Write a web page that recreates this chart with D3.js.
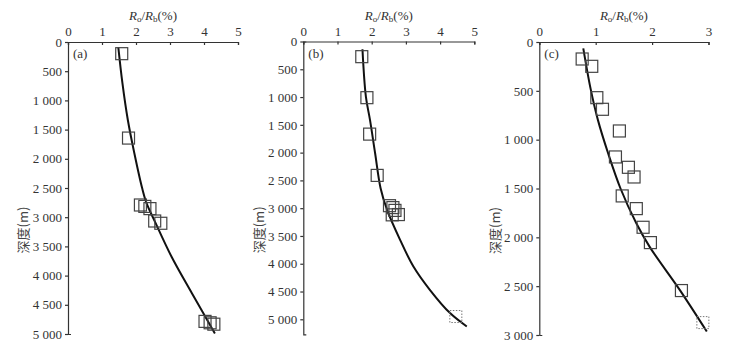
<!DOCTYPE html>
<html>
<head>
<meta charset="utf-8">
<script src="https://cdn.jsdelivr.net/npm/d3@7"></script>
<style>
  body { margin: 0; background: #fff; }
  svg text { font-family: "Liberation Serif", "DejaVu Serif", serif; fill: #333; }
  .axis path, .axis line { stroke: #333; stroke-width: 1.2; }
</style>
</head>
<body>
<svg id="chart" width="730" height="345"></svg>
<script>
// panel (a)
const ptsA_x = [1.58, 1.78, 2.13, 2.26, 2.41, 2.55, 2.73, 4.03, 4.18, 4.29];
const ptsA_d = [200, 1645, 2791, 2815, 2853, 3065, 3104, 4784, 4808, 4832];
const fitA_x = [1.48, 1.60, 1.76, 1.95, 2.18, 2.31, 2.56, 3.05, 3.64, 4.32];
const fitA_d = [91, 700, 1336, 1900, 2500, 2760, 3080, 3682, 4298, 4991];

// panel (b)
const ptsB_x = [1.71, 1.86, 1.94, 2.16, 2.52, 2.62, 2.68, 2.60, 2.78];
const ptsB_d = [273, 1011, 1667, 2410, 2955, 2990, 3040, 3120, 3115];
const dotB_x = [4.46];
const dotB_d = [4950];
const fitB_x = [1.73, 1.83, 1.95, 2.10, 2.26, 2.45, 2.83, 3.22, 3.70, 4.29, 4.78];
const fitB_d = [140, 993, 1412, 2011, 2640, 3031, 3570, 4050, 4469, 4888, 5129];

// panel (c)
const ptsC_x = [0.76, 0.93, 1.02, 1.12, 1.42, 1.35, 1.58, 1.68, 1.47, 1.72, 1.84, 1.97, 2.52];
const ptsC_d = [174, 249, 570, 689, 911, 1177, 1283, 1382, 1576, 1706, 1897, 2054, 2545];
const dotC_x = [2.90];
const dotC_d = [2873];
const fitC_x = [0.78, 0.91, 1.04, 1.22, 1.44, 1.72, 1.96, 2.49, 2.97];
const fitC_d = [65, 480, 800, 1139, 1500, 1856, 2100, 2538, 2965];

const xTicksA = [0, 1, 2, 3, 4, 5];
const xTicksC = [0, 1, 2, 3];
const yTicks5000 = [0, 500, 1000, 1500, 2000, 2500, 3000, 3500, 4000, 4500, 5000];
const yTicks3000 = [0, 500, 1000, 1500, 2000, 2500, 3000];

const panels = [
  {label: "(a)", px: ptsA_x, pd: ptsA_d, dx: [], dd: [], fx: fitA_x, fd: fitA_d,
   xr: [68, 238], yr: [42, 334], xdom: [0, 5], ydom: [0, 5000], xt: xTicksA, yt: yTicks5000, ylx: 23},
  {label: "(b)", px: ptsB_x, pd: ptsB_d, dx: dotB_x, dd: dotB_d, fx: fitB_x, fd: fitB_d,
   xr: [303.3, 474.3], yr: [41.5, 334.3], xdom: [0, 5], ydom: [0, 5270], xt: xTicksA, yt: yTicks5000, ylx: 259},
  {label: "(c)", px: ptsC_x, pd: ptsC_d, dx: dotC_x, dd: dotC_d, fx: fitC_x, fd: fitC_d,
   xr: [539.3, 708.5], yr: [42, 335], xdom: [0, 3], ydom: [0, 3000], xt: xTicksC, yt: yTicks3000, ylx: 495}
];

const svg = d3.select("#chart");
const fmt = d => d >= 1000 ? Math.floor(d / 1000) + " " + String(d % 1000).padStart(3, "0") : String(d);
const sq = 12;
const serif = "'Liberation Serif', 'DejaVu Serif', serif";

panels.forEach(p => {
  const x = d3.scaleLinear().domain(p.xdom).range(p.xr);
  const y = d3.scaleLinear().domain(p.ydom).range(p.yr);
  const g = svg.append("g");

  // top axis, ticks pointing in
  const gx = g.append("g").attr("class", "axis")
    .attr("transform", `translate(0,${p.yr[0]})`)
    .call(d3.axisTop(x).tickValues(p.xt).tickFormat(d3.format("d"))
      .tickSize(-3).tickSizeOuter(-3).tickPadding(6));
  gx.attr("font-family", null);
  gx.selectAll("text").style("font-size", "13px").style("font-family", serif).attr("fill", "#333");

  const gy = g.append("g").attr("class", "axis")
    .attr("transform", `translate(${p.xr[0]},0)`)
    .call(d3.axisLeft(y).tickValues(p.yt).tickFormat(fmt).tickSize(3).tickSizeOuter(-3).tickPadding(3));
  gy.attr("font-family", null);
  gy.selectAll("text").style("font-size", "13px").style("font-family", serif).attr("fill", "#333");

  // axis title
  const cx = (p.xr[0] + p.xr[1]) / 2;
  const t = g.append("text").attr("x", cx).attr("y", 20).attr("text-anchor", "middle")
    .style("font-size", "13px").style("font-family", serif);
  t.append("tspan").style("font-style", "italic").text("R");
  t.append("tspan").attr("dy", 2).style("font-size", "9px").text("o");
  t.append("tspan").attr("dy", -2).text("/");
  t.append("tspan").style("font-style", "italic").text("R");
  t.append("tspan").attr("dy", 2).style("font-size", "9px").text("b");
  t.append("tspan").attr("dy", -2).text("(%)");

  // y title
  const cy = (p.yr[0] + p.yr[1]) / 2 + 42;
  g.append("text")
    .attr("transform", `translate(${p.ylx},${cy}) rotate(-90)`)
    .attr("text-anchor", "middle").attr("dy", "0.35em")
    .style("font-size", "13px")
    .style("font-family", "'Noto Sans CJK SC', sans-serif")
    .style("fill", "#444")
    .text("深度(m)");

  g.append("text").attr("x", p.xr[0] + 5).attr("y", p.yr[0] + 16)
    .style("font-size", "13px").style("font-family", serif).text(p.label);

  // fitted trend
  const line = d3.line().x(d => x(d[0])).y(d => y(d[1])).curve(d3.curveCatmullRom);
  g.append("path").datum(d3.zip(p.fx, p.fd)).attr("d", line)
    .attr("fill", "none").attr("stroke", "#111").attr("stroke-width", 2);

  // samples
  g.selectAll("rect.pt").data(d3.zip(p.px, p.pd)).join("rect").attr("class", "pt")
    .attr("x", d => x(d[0]) - sq / 2).attr("y", d => y(d[1]) - sq / 2)
    .attr("width", sq).attr("height", sq)
    .attr("fill", "none").attr("stroke", "#444").attr("stroke-width", 1.2);

  g.selectAll("rect.dot").data(d3.zip(p.dx, p.dd)).join("rect").attr("class", "dot")
    .attr("x", d => x(d[0]) - sq / 2).attr("y", d => y(d[1]) - sq / 2)
    .attr("width", sq).attr("height", sq)
    .attr("fill", "none").attr("stroke", "#777").attr("stroke-width", 1)
    .attr("stroke-dasharray", "1.5,1.5");
});
</script>
</body>
</html>
